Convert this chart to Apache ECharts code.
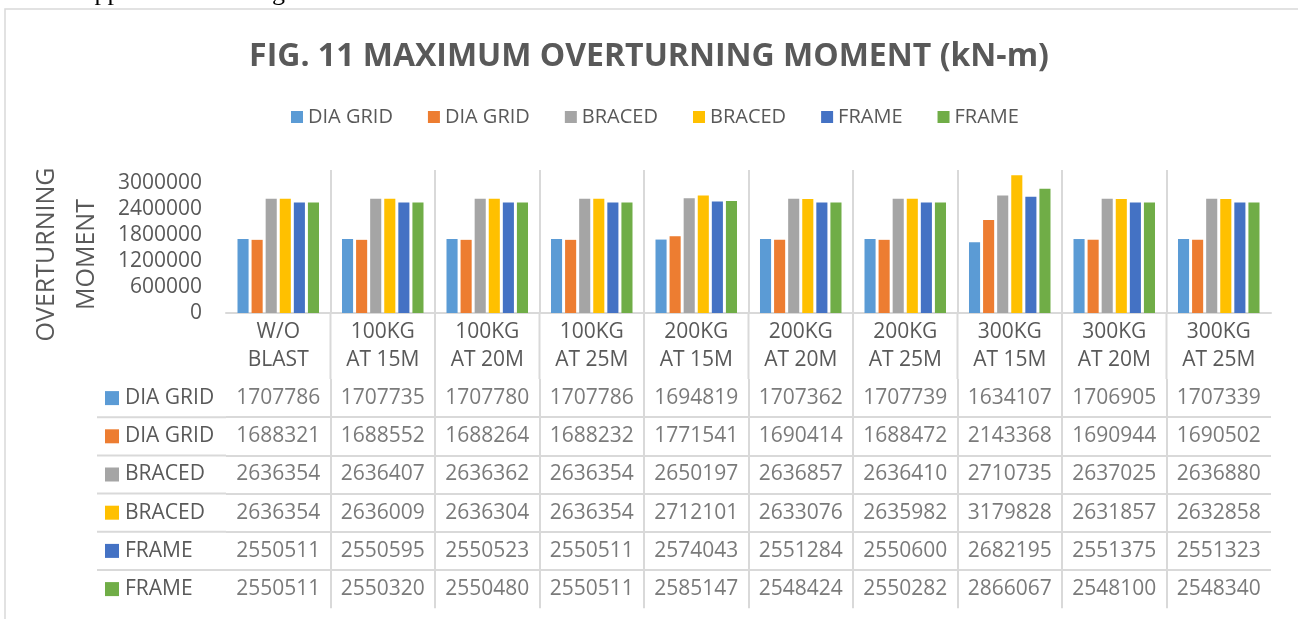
<!DOCTYPE html>
<html><head><meta charset="utf-8">
<script src="https://cdn.jsdelivr.net/npm/echarts@6/dist/echarts.min.js"></script>
<style>html,body{margin:0;padding:0;background:#fff;overflow:hidden}#c{width:1298px;height:619px}</style>
</head><body><div id="c"></div>
<script>
const pageTextAbove = 'forced applied on building dia. The minimum value of';
const titleText = 'FIG. 11 MAXIMUM OVERTURNING MOMENT (kN-m)';
const yAxisTitle = 'OVERTURNING\nMOMENT';
const categories = ['W/O\nBLAST', '100KG\nAT 15M', '100KG\nAT 20M', '100KG\nAT 25M', '200KG\nAT 15M',
  '200KG\nAT 20M', '200KG\nAT 25M', '300KG\nAT 15M', '300KG\nAT 20M', '300KG\nAT 25M'];
const seriesLabels = ['DIA GRID', 'DIA GRID', 'BRACED', 'BRACED', 'FRAME', 'FRAME'];
const seriesColors = ['#5B9BD5', '#ED7D31', '#A5A5A5', '#FFC000', '#4472C4', '#70AD47'];
const diaGridA = [1707786, 1707735, 1707780, 1707786, 1694819, 1707362, 1707739, 1634107, 1706905, 1707339];
const diaGridB = [1688321, 1688552, 1688264, 1688232, 1771541, 1690414, 1688472, 2143368, 1690944, 1690502];
const bracedA  = [2636354, 2636407, 2636362, 2636354, 2650197, 2636857, 2636410, 2710735, 2637025, 2636880];
const bracedB  = [2636354, 2636009, 2636304, 2636354, 2712101, 2633076, 2635982, 3179828, 2631857, 2632858];
const frameA   = [2550511, 2550595, 2550523, 2550511, 2574043, 2551284, 2550600, 2682195, 2551375, 2551323];
const frameB   = [2550511, 2550320, 2550480, 2550511, 2585147, 2548424, 2550282, 2866067, 2548100, 2548340];
const yTickMin = 0, yTickMax = 3000000, yTickStep = 600000;

const seriesValues = [diaGridA, diaGridB, bracedA, bracedB, frameA, frameB];
const keys = seriesLabels.map((_, i) => 's' + i);
const FONT = "'Open Sans', sans-serif";
const TXT = '#595959';
const LINE = '#D9D9D9';

const chart = echarts.init(document.getElementById('c'), null, {renderer: 'canvas'});

const rich = {};
seriesColors.forEach((c, i) => { rich['k' + i] = {width: 14, height: 14, backgroundColor: c}; });
rich.t = {fontSize: 21, color: TXT, fontFamily: FONT, padding: [0, 0, 0, 6]};

const tableData = [];
seriesValues.forEach((arr, r) => arr.forEach((v, c) => tableData.push([c, r, v])));

const bars = seriesValues.map((arr, i) => ({
  type: 'bar', name: keys[i], xAxisIndex: 0, yAxisIndex: 0, data: arr,
  barGap: '27%', barCategoryGap: '22%',
  itemStyle: {color: seriesColors[i]}, silent: true
}));

const option = {
  backgroundColor: '#fff',
  animation: false,
  title: {text: titleText, left: 'center', top: 36,
    textStyle: {fontFamily: FONT, fontSize: 32, fontWeight: 'bold', color: TXT}},
  legend: {data: keys, top: 102, left: 286, itemWidth: 12, itemHeight: 12, itemGap: 35, icon: 'rect',
    selectedMode: false, formatter: n => seriesLabels[keys.indexOf(n)],
    textStyle: {fontFamily: FONT, fontSize: 20, color: TXT}},
  grid: [
    {left: 226, right: 27, top: 170, bottom: 306, outerBoundsMode: 'none'},
    {left: 226, right: 27, top: 379, height: 229.2, outerBoundsMode: 'none'}
  ],
  xAxis: [
    {type: 'category', gridIndex: 0, data: categories,
      axisLine: {lineStyle: {color: LINE, width: 2}}, axisTick: {show: false},
      axisLabel: {interval: 0, fontFamily: FONT, fontSize: 21, color: TXT, lineHeight: 28, margin: 5},
      splitLine: {show: true, interval: 0, showMinLine: false, showMaxLine: false, lineStyle: {color: LINE, width: 2}}},
    {type: 'category', gridIndex: 1, data: categories,
      axisLine: {show: false}, axisTick: {show: false}, axisLabel: {show: false},
      splitLine: {show: true, interval: 0, showMinLine: false, showMaxLine: false, lineStyle: {color: LINE, width: 2}}}
  ],
  yAxis: [
    {type: 'value', gridIndex: 0, min: yTickMin, max: 3300000, interval: yTickStep,
      name: yAxisTitle, nameLocation: 'middle', nameRotate: 90, nameGap: 111,
      nameTextStyle: {fontFamily: FONT, fontSize: 25, color: TXT, lineHeight: 40, padding: [0, 26, 0, 0]},
      axisLine: {show: false}, axisTick: {show: false}, splitLine: {show: false},
      axisLabel: {fontFamily: FONT, fontSize: 21, color: TXT, margin: 24, showMaxLabel: false,
        formatter: v => (v <= yTickMax ? String(v) : '')}},
    {type: 'category', gridIndex: 1, inverse: true, data: keys,
      axisLine: {show: false}, axisTick: {show: false},
      axisLabel: {interval: 0, align: 'left', margin: 121,
        formatter: (v, i) => `{k${i}|}{t|${seriesLabels[i]}}`, rich},
      splitLine: {show: true, interval: 0, showMinLine: false, showMaxLine: false, lineStyle: {color: LINE, width: 2}}}
  ],
  series: bars.concat([{
    type: 'scatter', name: 'table', xAxisIndex: 1, yAxisIndex: 1, data: tableData,
    symbolSize: 0, silent: true,
    label: {show: true, position: 'inside', formatter: p => String(p.value[2]),
      fontFamily: FONT, fontSize: 21, color: TXT}
  }])
};
chart.setOption(option);

const cx = categories.map((_, i) => chart.convertToPixel({xAxisIndex: 0}, i));
const band = cx[1] - cx[0];
const yBase = chart.convertToPixel({yAxisIndex: 0}, 0);
const ry = keys.map((_, i) => chart.convertToPixel({yAxisIndex: 1}, i));
const rowStep = ry[1] - ry[0];
const tableTop = ry[0] - rowStep / 2;
const gridLeft = cx[0] - band / 2;
const gfx = [];
for (let i = 1; i < cx.length; i++) {
  const x = (cx[i - 1] + cx[i]) / 2;
  gfx.push({type: 'line', silent: true, shape: {x1: x, y1: yBase + 1, x2: x, y2: tableTop}, style: {stroke: LINE, lineWidth: 2}});
}
for (let j = 1; j < ry.length; j++) {
  const y = (ry[j - 1] + ry[j]) / 2;
  gfx.push({type: 'line', silent: true, shape: {x1: 97, y1: y, x2: gridLeft, y2: y}, style: {stroke: LINE, lineWidth: 2}});
}
gfx.push({type: 'polyline', silent: true, shape: {points: [[5, 625], [5, 9], [1300, 9]]},
  style: {stroke: LINE, lineWidth: 1.5, fill: null}});
gfx.push({type: 'text', silent: true, x: 10, y: -7,
  style: {text: pageTextAbove, font: '26px "Liberation Serif", serif', fill: '#000', verticalAlign: 'middle'}});
chart.setOption({graphic: gfx});
</script></body></html>
